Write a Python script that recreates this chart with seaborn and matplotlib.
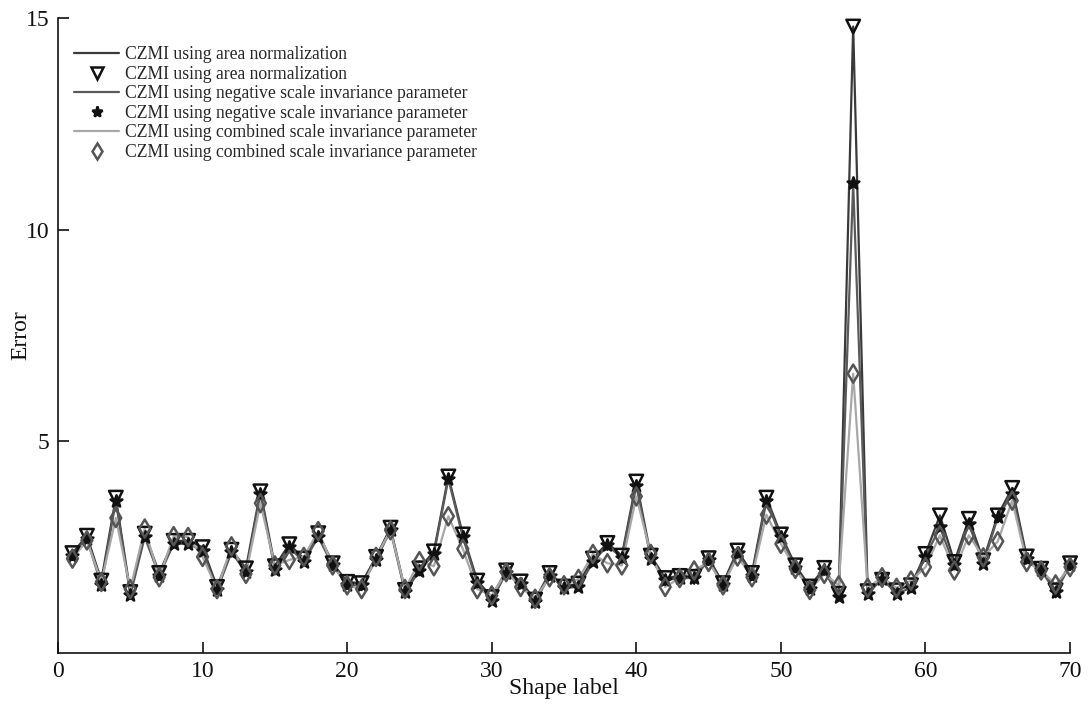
import numpy as np
import pandas as pd
import matplotlib
matplotlib.use("Agg")
import matplotlib.pyplot as plt
import seaborn as sns

shape_label = list(range(1, 71))

area_norm = [2.36, 2.77, 1.71, 3.67, 1.44, 2.82, 1.89, 2.65, 2.65, 2.50,
             1.56, 2.44, 2.00, 3.82, 2.05, 2.57, 2.23, 2.83, 2.12, 1.68,
             1.65, 2.27, 2.96, 1.49, 2.00, 2.40, 4.17, 2.80, 1.71, 1.32,
             1.95, 1.69, 1.26, 1.89, 1.57, 1.64, 2.23, 2.60, 2.30, 4.05,
             2.30, 1.77, 1.82, 1.80, 2.24, 1.65, 2.42, 1.89, 3.67, 2.80,
             2.07, 1.57, 2.01, 1.40, 14.80, 1.46, 1.73, 1.48, 1.60, 2.34,
             3.25, 2.15, 3.17, 2.19, 3.25, 3.90, 2.28, 1.99, 1.48, 2.12]

neg_scale = [2.30, 2.70, 1.60, 3.60, 1.36, 2.74, 1.83, 2.58, 2.58, 2.42,
             1.48, 2.38, 1.91, 3.76, 1.95, 2.50, 2.15, 2.74, 2.07, 1.60,
             1.60, 2.20, 2.90, 1.44, 1.94, 2.34, 4.11, 2.74, 1.65, 1.24,
             1.89, 1.64, 1.20, 1.83, 1.54, 1.56, 2.15, 2.54, 2.25, 3.95,
             2.23, 1.72, 1.77, 1.77, 2.19, 1.60, 2.36, 1.83, 3.60, 2.74,
             2.01, 1.51, 1.95, 1.32, 11.10, 1.40, 1.75, 1.40, 1.54, 2.28,
             2.97, 2.07, 3.05, 2.11, 3.21, 3.76, 2.23, 1.95, 1.44, 2.07]

combined = [2.23, 2.66, 1.68, 3.19, 1.51, 2.94, 1.79, 2.76, 2.74, 2.27,
            1.51, 2.52, 1.87, 3.54, 2.07, 2.20, 2.27, 2.88, 2.07, 1.60,
            1.51, 2.27, 2.90, 1.51, 2.17, 2.05, 3.23, 2.46, 1.51, 1.36,
            1.91, 1.56, 1.28, 1.79, 1.60, 1.75, 2.34, 2.12, 2.07, 3.70,
            2.34, 1.56, 1.77, 1.95, 2.15, 1.60, 2.28, 1.79, 3.27, 2.58,
            1.99, 1.49, 1.87, 1.60, 6.60, 1.54, 1.79, 1.54, 1.71, 2.03,
            2.78, 1.95, 2.78, 2.26, 2.64, 3.60, 2.15, 1.95, 1.62, 2.03]

label_area = "CZMI using area normalization"
label_neg = "CZMI using negative scale invariance parameter"
label_comb = "CZMI using combined scale invariance parameter"

df = pd.DataFrame({"x": shape_label, "a": area_norm, "n": neg_scale, "c": combined})

sns.set_theme(style="white")
plt.rcParams["font.family"] = ["Liberation Serif", "DejaVu Serif"]
plt.rcParams["mathtext.fontset"] = "stix"

fig = plt.figure(figsize=(10.88, 7.15), dpi=100)
ax = fig.add_axes([0.0533, 0.0867, 0.9302, 0.888])

series = [
    ("a", label_area, "#3a3a3a", "v", "none", "#111111", 95),
    ("n", label_neg, "#5a5a5a", "*", "#111111", "#111111", 80),
    ("c", label_comb, "#a8a8a8", "d", "none", "#555555", 85),
]

handles = []
for col, lab, lc, mk, fc, ec, s in series:
    sns.lineplot(data=df, x="x", y=col, ax=ax, color=lc, linewidth=1.6,
                 label=lab, legend=False)
    line = ax.lines[-1]
    sns.scatterplot(data=df, x="x", y=col, ax=ax, marker=mk, s=s, legend=False,
                    zorder=3)
    coll = ax.collections[-1]
    coll.set_facecolor(fc)
    coll.set_edgecolor(ec)
    coll.set_linewidth(1.8)
    coll.set_clip_on(False)
    mh = plt.Line2D([], [], linestyle="none", marker=mk, markersize=8,
                    markerfacecolor=fc, markeredgecolor=ec, markeredgewidth=1.8)
    handles += [(line, lab), (mh, lab)]

ax.set_xlim(0, 70)
ax.set_ylim(0, 15)
ax.set_xticks([0, 10, 20, 30, 40, 50, 60, 70])
ax.set_yticks([5, 10, 15])
ax.tick_params(axis="both", direction="in", length=8, width=1.2,
               labelsize=17, colors="#111111", bottom=True, left=True, pad=6)
for sp in ["top", "right"]:
    ax.spines[sp].set_visible(False)
for sp in ["left", "bottom"]:
    ax.spines[sp].set_color("#111111")
    ax.spines[sp].set_linewidth(1.2)

ax.set_xlabel("Shape label", fontsize=17, labelpad=-3, color="#111111")
ax.set_ylabel("Error", fontsize=17, color="#111111")
ax.yaxis.set_label_coords(-0.026, 0.5)

leg = ax.legend([h for h, _ in handles], [l for _, l in handles],
                loc="upper left", bbox_to_anchor=(0.005, 0.972), frameon=False,
                fontsize=12.7, labelspacing=0.14, handlelength=2.6,
                handletextpad=0.3, borderaxespad=0.2)

fig.savefig("out.png", dpi=100)
